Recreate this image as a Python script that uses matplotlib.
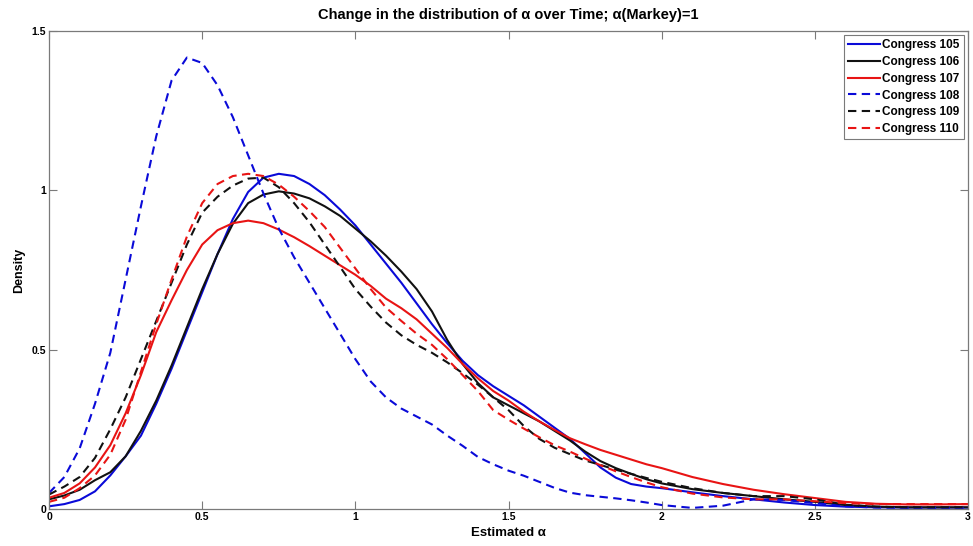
import matplotlib
matplotlib.use("Agg")
import matplotlib.pyplot as plt


# ------------------------------
# Data
# ------------------------------
ALPHA = [0, 0.05, 0.1, 0.15, 0.2, 0.25, 0.3, 0.35, 0.4, 0.45, 0.5, 0.55,
         0.6, 0.65, 0.7, 0.75, 0.8, 0.85, 0.9, 0.95, 1.0,
         1.05, 1.1, 1.15, 1.2, 1.25, 1.3, 1.35, 1.4, 1.45, 1.5,
         1.55, 1.6, 1.65, 1.7, 1.75, 1.8, 1.85, 1.9, 1.95, 2.0,
         2.1, 2.2, 2.3, 2.4, 2.5, 2.6, 2.7, 2.8, 2.9, 3.0]

c105 = [0.008, 0.015, 0.028, 0.055, 0.105, 0.165, 0.23, 0.33, 0.44, 0.56,
        0.68, 0.80, 0.91, 0.995, 1.04, 1.052, 1.045, 1.02, 0.985, 0.94,
        0.89,
        0.83, 0.77, 0.71, 0.645, 0.58, 0.52, 0.465, 0.42, 0.385, 0.355,
        0.325, 0.29, 0.255, 0.22, 0.175, 0.13, 0.098, 0.078, 0.07, 0.065,
        0.052, 0.04, 0.03, 0.02, 0.012, 0.007, 0.005, 0.004, 0.004, 0.004]

c106 = [0.03, 0.042, 0.06, 0.09, 0.115, 0.165, 0.245, 0.34, 0.45, 0.57,
        0.69, 0.80, 0.895, 0.96, 0.987, 0.997, 0.99, 0.975, 0.95, 0.92,
        0.88,
        0.84, 0.795, 0.745, 0.69, 0.62, 0.53, 0.455, 0.395, 0.35, 0.325,
        0.30, 0.275, 0.245, 0.215, 0.18, 0.15, 0.128, 0.11, 0.093, 0.08,
        0.062, 0.05, 0.04, 0.03, 0.022, 0.012, 0.007, 0.005, 0.005, 0.005]

c107 = [0.035, 0.05, 0.08, 0.13, 0.20, 0.30, 0.42, 0.555, 0.655, 0.75,
        0.83, 0.875, 0.897, 0.905, 0.897, 0.877, 0.853, 0.825, 0.795,
        0.765, 0.735,
        0.70, 0.66, 0.63, 0.595, 0.55, 0.505, 0.455, 0.41, 0.37, 0.34,
        0.305, 0.275, 0.248, 0.222, 0.203, 0.185, 0.17, 0.155, 0.14, 0.128,
        0.10, 0.078, 0.06, 0.046, 0.034, 0.022, 0.016, 0.014, 0.014, 0.015]

c108 = [0.05, 0.10, 0.19, 0.33, 0.49, 0.72, 0.95, 1.17, 1.345, 1.417,
        1.40, 1.33, 1.23, 1.11, 0.99, 0.88, 0.79, 0.71, 0.63, 0.55, 0.47,
        0.40, 0.35, 0.315, 0.29, 0.265, 0.23, 0.198, 0.163, 0.14, 0.12,
        0.104, 0.085, 0.066, 0.051, 0.043, 0.038, 0.033, 0.027, 0.02, 0.012,
        0.003, 0.01, 0.03, 0.028, 0.018, 0.008, 0.004, 0.003, 0.003, 0.003]

c109 = [0.045, 0.07, 0.10, 0.16, 0.25, 0.35, 0.47, 0.59, 0.71, 0.83,
        0.93, 0.98, 1.015, 1.037, 1.04, 1.01, 0.96, 0.90, 0.83, 0.76,
        0.69,
        0.635, 0.585, 0.545, 0.515, 0.49, 0.46, 0.426, 0.39, 0.35, 0.31,
        0.26, 0.22, 0.192, 0.172, 0.152, 0.138, 0.123, 0.11, 0.097, 0.085,
        0.065, 0.05, 0.04, 0.04, 0.03, 0.013, 0.007, 0.005, 0.005, 0.005]

c110 = [0.022, 0.035, 0.065, 0.105, 0.17, 0.28, 0.43, 0.58, 0.72, 0.855,
        0.96, 1.02, 1.045, 1.052, 1.045, 1.018, 0.98, 0.935, 0.885, 0.82,
        0.755,
        0.69, 0.632, 0.59, 0.55, 0.515, 0.47, 0.42, 0.37, 0.31, 0.28,
        0.252, 0.225, 0.2, 0.18, 0.158, 0.137, 0.118, 0.10, 0.083, 0.068,
        0.048, 0.036, 0.03, 0.03, 0.024, 0.018, 0.015, 0.015, 0.015, 0.015]

LABELS = ["Congress 105", "Congress 106", "Congress 107",
          "Congress 108", "Congress 109", "Congress 110"]

X_TICKS = [0, 0.5, 1, 1.5, 2, 2.5, 3]
X_TICK_LABELS = ["0", "0.5", "1", "1.5", "2", "2.5", "3"]
Y_TICKS = [0, 0.5, 1, 1.5]
Y_TICK_LABELS = ["0", "0.5", "1", "1.5"]


# ------------------------------
# Styling
# ------------------------------
BLUE = "#0a0ad8"
BLACK = "#111111"
RED = "#e81414"
FRAME = "#7a7a7a"

plt.rcParams["font.family"] = ["Liberation Sans", "DejaVu Sans"]
plt.rcParams["font.weight"] = "bold"


def draw():
    fig = plt.figure(figsize=(9.73, 5.46), dpi=100)
    ax = fig.add_axes([0.0504, 0.068, 0.9445, 0.875])

    series = [
        (c105, BLUE, "-"),
        (c106, BLACK, "-"),
        (c107, RED, "-"),
        (c108, BLUE, "--"),
        (c109, BLACK, "--"),
        (c110, RED, "--"),
    ]
    for (vals, col, ls), name in zip(series, LABELS):
        line, = ax.plot(ALPHA, vals, color=col, linestyle=ls, linewidth=1.5,
                        label=name, solid_joinstyle="round")
        if ls == "--":
            line.set_dashes((4, 2.6))

    ax.set_xlim(0, 3)
    ax.set_ylim(0, 1.5)
    ax.set_xticks(X_TICKS)
    ax.set_xticklabels(X_TICK_LABELS)
    ax.set_yticks(Y_TICKS)
    ax.set_yticklabels(Y_TICK_LABELS)

    ax.tick_params(direction="in", length=5.5, width=0.8, color=FRAME,
                   labelsize=7.5, top=True, right=True, pad=2)
    for sp in ax.spines.values():
        sp.set_color(FRAME)
        sp.set_linewidth(0.9)

    ax.set_title("Change in the distribution of \u03b1 over Time; \u03b1(Markey)=1",
                 fontsize=10.5, fontweight="bold", pad=9)
    ax.set_xlabel("Estimated \u03b1", fontsize=9.5, fontweight="bold", labelpad=4)
    ax.set_ylabel("Density", fontsize=9, fontweight="bold", labelpad=5)

    leg = ax.legend(loc="upper right", fontsize=8.5, handlelength=2.7,
                    handletextpad=0.2, labelspacing=0.4, borderpad=0.35,
                    borderaxespad=0.35, fancybox=False, framealpha=1)
    leg.get_frame().set_edgecolor(FRAME)
    leg.get_frame().set_linewidth(0.8)

    fig.savefig("out.png", dpi=100)
    plt.close(fig)


if __name__ == "__main__":
    draw()
